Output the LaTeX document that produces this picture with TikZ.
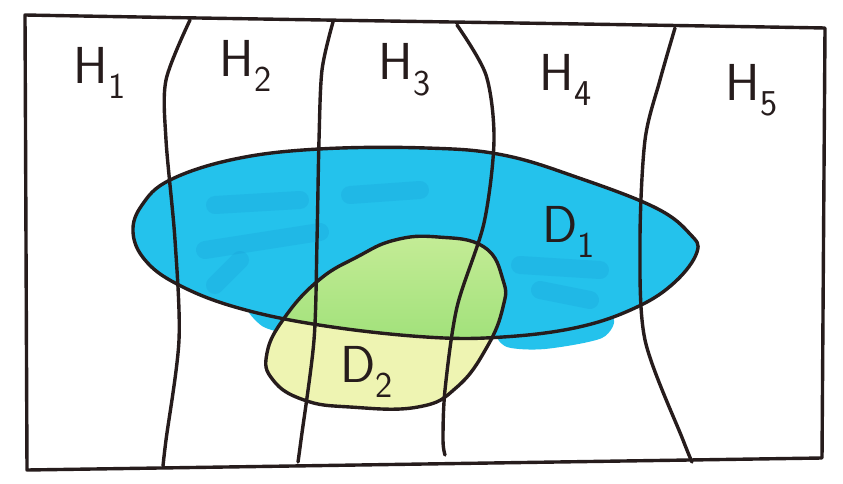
\documentclass[tikz,border=0pt]{standalone}
\usepackage{fontspec}
\setsansfont{Latin Modern Sans}
\begin{document}
\begin{tikzpicture}[x=1pt,y=-1pt,
  ink/.style={draw=inkc,line width=3.4pt,line cap=round,line join=round},
  lab/.style={text=inkc,font=\sffamily\fontsize{52}{52}\selectfont,inner sep=0pt},
  streak/.style={draw=bluedark,line width=18pt,line cap=round,opacity=0.22}]
\definecolor{inkc}{RGB}{38,28,28}
\definecolor{blueD}{RGB}{36,194,236}
\definecolor{bluedark}{RGB}{20,150,210}
\definecolor{yel}{RGB}{238,244,178}
\definecolor{grnT}{RGB}{196,236,150}
\definecolor{grnB}{RGB}{138,218,104}
\useasboundingbox (0,0) rectangle (843,484);
\fill[white] (0,0) rectangle (843,484);
\def\Done{plot[smooth cycle,tension=0.65] coordinates {(133,232) (145,260) (177,284) (235,307) (319,325) (426,337) (503,337) (579,327) (637,307) (675,282) (697,252) (690,234) (656,208) (579,178) (503,155) (426,148) (319,149) (235,159) (170,180) (142,205)}}
\def\Dtwo{plot[smooth cycle,tension=0.75] coordinates {(438,237) (484,247) (503,280) (503,307) (487,347) (457,387) (418,407) (350,407) (304,400) (273,380) (267,353) (285,317) (319,280) (357,257) (395,240)}}
\fill[blueD] \Done;
\fill[blueD] plot[smooth cycle] coordinates {(500,333) (560,330) (612,318) (602,338) (545,349) (507,347)};
\fill[blueD] plot[smooth cycle] coordinates {(248,308) (290,318) (285,332) (262,326)};
\begin{scope}
\clip \Done;
\draw[streak] (215,205) -- (300,200);
\draw[streak] (350,195) -- (420,190);
\draw[streak] (205,250) -- (320,232);
\draw[streak] (215,285) -- (240,260);
\draw[streak] (540,290) -- (590,300);
\draw[streak] (520,265) -- (600,270);
\end{scope}
\fill[yel] \Dtwo;
\begin{scope}
\clip \Done;
\shade[top color=grnT,bottom color=grnB] \Dtwo;
\end{scope}
% frame
\draw[ink] (25,15) .. controls (300,20) and (600,24) .. (825,28) -- (822,458) -- (27,470) -- cycle;
% partition lines
\draw[ink] plot[smooth] coordinates {(190,20) (166,80) (166,140) (175,240) (179,340) (166,440) (163,466)};
\draw[ink] plot[smooth] coordinates {(333,22) (322,70) (319,140) (317,240) (314,340) (301,440) (298,462)};
\draw[ink] plot[smooth] coordinates {(457,25) (486,75) (494,140) (484,223) (457,307) (445,390) (443,440) (445,455)};
\draw[ink] plot[smooth] coordinates {(675,28) (660,80) (645,140) (640,240) (645,340) (683,440) (692,462)};
\draw[ink] \Done;
\draw[ink] \Dtwo;
\node[lab] (h1) at (100,73) {H\textsubscript{1}};
\node[lab] (h2) at (246,66) {H\textsubscript{2}};
\node[lab] (h3) at (405,70) {H\textsubscript{3}};
\node[lab] (h4) at (566,80) {H\textsubscript{4}};
\node[lab] (h5) at (752,90) {H\textsubscript{5}};
\node[lab] (d1) at (569,232) {D\textsubscript{1}};
\node[lab] (d2) at (367,372) {D\textsubscript{2}};
\end{tikzpicture}
\end{document}
